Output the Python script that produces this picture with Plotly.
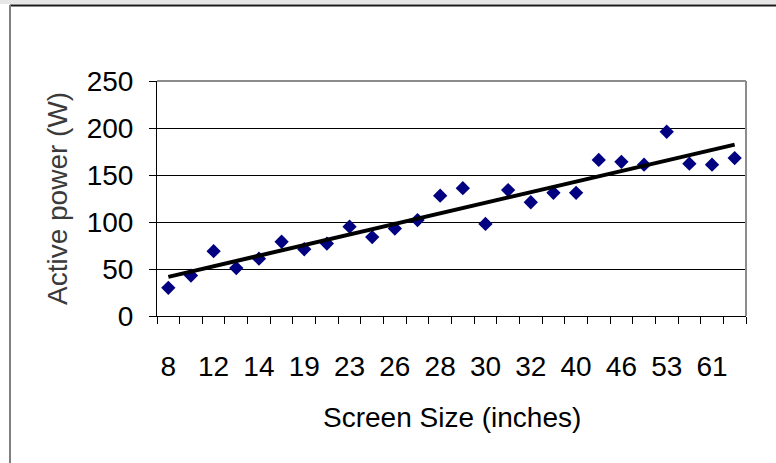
import numpy as np
import plotly.graph_objects as go

# Screen sizes (inches); only every other category label is shown on the axis
screen_sizes = ["8", "10", "12", "13", "14", "17", "19", "20", "23", "24", "26", "27", "28",
                "29", "30", "31", "32", "37", "40", "42", "46", "50", "53", "57", "61", "65"]
active_power = [30, 43, 69, 51, 61, 79, 71, 77, 95, 84, 93, 102, 128,
                136, 98, 134, 121, 131, 131, 166, 164, 161, 196, 162, 161, 168]
y_ticks = [0, 50, 100, 150, 200, 250]

idx = np.arange(len(screen_sizes))
slope, intercept = np.polyfit(idx, active_power, 1)
trend = slope * idx + intercept

FONT = "Liberation Sans, Arial, sans-serif"
FS = 28

fig = go.Figure()
fig.add_trace(go.Scatter(
    x=idx, y=active_power, mode="markers",
    marker=dict(symbol="diamond", size=11, color="#000080"),
    showlegend=False, hoverinfo="skip"))
fig.add_trace(go.Scatter(
    x=[idx[0], idx[-1]], y=[trend[0], trend[-1]], mode="lines",
    line=dict(color="black", width=4),
    showlegend=False, hoverinfo="skip"))

L, R, T, B = 157, 30, 81, 147
W, H = 776, 463
pw, ph = W - L - R, H - T - B

def px(x):
    return (x - L) / pw

def py(y):
    return (H - B - y) / ph

fig.update_layout(
    width=W, height=H,
    margin=dict(l=L, r=R, t=T, b=B, pad=0),
    paper_bgcolor="white", plot_bgcolor="white",
    font=dict(family=FONT, size=FS, color="black"),
    xaxis=dict(
        range=[-0.5, len(screen_sizes) - 0.5],
        tickmode="array", tickvals=list(idx[::2]), ticktext=screen_sizes[::2],
        ticks="", showgrid=False, zeroline=False,
        showline=True, linecolor="black", linewidth=1,
        ticklabelstandoff=25,
        tickfont=dict(family=FONT, size=FS, color="black"),
        minor=dict(tickmode="linear", tick0=-0.5, dtick=1, ticks="outside",
                   ticklen=7, tickcolor="black", tickwidth=1, showgrid=False),
    ),
    yaxis=dict(
        range=[0, 250], tickmode="array", tickvals=y_ticks,
        ticks="outside", ticklen=7, tickcolor="black", tickwidth=1,
        showgrid=True, gridcolor="black", gridwidth=1, zeroline=False,
        showline=True, linecolor="black", linewidth=1,
        ticklabelstandoff=10,
        tickfont=dict(family=FONT, size=FS, color="black"),
    ),
    annotations=[
        dict(text="Screen Size (inches)", xref="paper", yref="paper",
             x=px(452), y=py(417), xanchor="center", yanchor="middle",
             showarrow=False, font=dict(family=FONT, size=FS, color="black")),
        dict(text="Active power (W)", xref="paper", yref="paper",
             x=px(57), y=py(199), xanchor="center", yanchor="middle",
             textangle=-90, showarrow=False,
             font=dict(family=FONT, size=FS, color="#3a3a3a")),
    ],
    shapes=[
        # light band above chart-area border
        dict(type="rect", xref="paper", yref="paper", x0=px(0), x1=px(W),
             y0=py(0), y1=py(4), fillcolor="#e6e6e6", line=dict(width=0), layer="below"),
        # chart area top border
        dict(type="line", xref="paper", yref="paper", x0=px(10), x1=px(W),
             y0=py(5.5), y1=py(5.5), line=dict(color="#1a1a1a", width=2)),
        # chart area left border
        dict(type="line", xref="paper", yref="paper", x0=px(10), x1=px(10),
             y0=py(5), y1=py(H), line=dict(color="#808080", width=2)),
        # plot area border (top and right)
        dict(type="line", xref="paper", yref="paper", x0=0, x1=1, y0=1, y1=1,
             line=dict(color="#8c8c8c", width=2), layer="above"),
        dict(type="line", xref="paper", yref="paper", x0=1, x1=1, y0=0, y1=1,
             line=dict(color="#8c8c8c", width=2), layer="above"),
    ],
)

fig.write_html("out.html")
